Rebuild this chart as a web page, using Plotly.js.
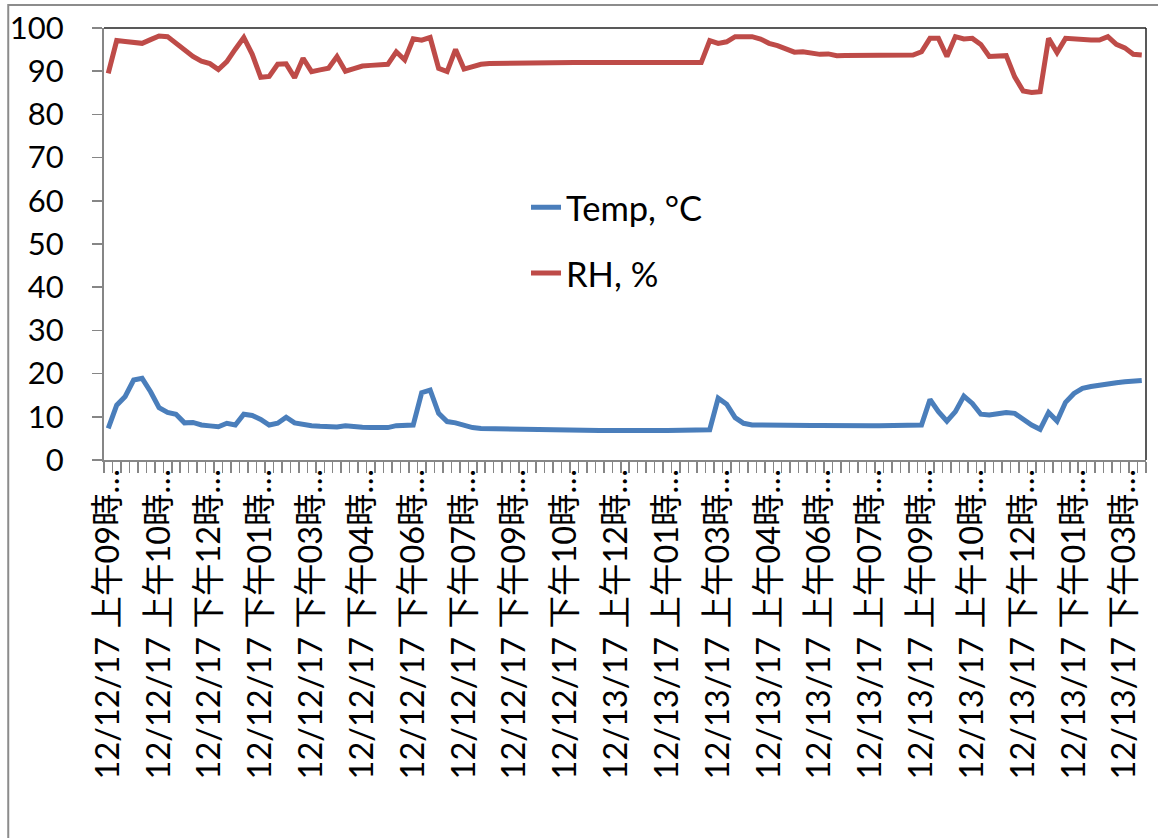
<!DOCTYPE html>
<html>
<head>
<meta charset="utf-8">
<script src="https://cdn.plot.ly/plotly-3.0.1.min.js"></script>
<style>
  html, body { margin: 0; padding: 0; background: #fff; }
  #chart { width: 1158px; height: 838px; }
</style>
</head>
<body>
<div id="chart"></div>
<script>
// Tick labels shown on the category axis (every 6th 15‑minute reading)
const timeLabels = [
  "12/12/17 上午09時…", "12/12/17 上午10時…", "12/12/17 下午12時…", "12/12/17 下午01時…",
  "12/12/17 下午03時…", "12/12/17 下午04時…", "12/12/17 下午06時…", "12/12/17 下午07時…",
  "12/12/17 下午09時…", "12/12/17 下午10時…", "12/13/17 上午12時…", "12/13/17 上午01時…",
  "12/13/17 上午03時…", "12/13/17 上午04時…", "12/13/17 上午06時…", "12/13/17 上午07時…",
  "12/13/17 上午09時…", "12/13/17 上午10時…", "12/13/17 下午12時…", "12/13/17 下午01時…",
  "12/13/17 下午03時…"
];
const labelEvery = 6;

// Temperature, °C (one reading per category)
const tempC = [
  7.3, 12.7, 14.7, 18.5, 18.9, 15.8, 12.1, 11.0, 10.6, 8.6,
  8.7, 8.1, 7.9, 7.7, 8.5, 8.1, 10.6, 10.3, 9.4, 8.1,
  8.5, 9.9, 8.6, 8.2, 7.95, 7.8, 7.7, 7.65, 7.95, 7.7,
  7.6, 7.55, 7.5, 7.5, 7.95, 7.95, 8.1, 15.6, 16.2, 10.8,
  8.9, 8.6, 7.95, 7.5, 7.3, 7.25, 7.2, 7.2, 7.15, 7.1,
  7.1, 7.05, 7.0, 7.0, 6.95, 6.95, 6.9, 6.9, 6.85, 6.85,
  6.8, 6.8, 6.8, 6.8, 6.8, 6.8, 6.8, 6.8, 6.8, 6.8,
  6.8, 7.0, 14.3, 12.9, 9.8, 8.5, 8.1, 8.05, 8.05, 8.0,
  8.0, 8.0, 8.0, 8.0, 8.0, 7.95, 7.95, 7.95, 7.95, 7.95,
  7.95, 7.95, 7.95, 7.95, 7.95, 7.95, 8.1, 14.0, 11.2, 9.0,
  11.2, 14.8, 13.1, 10.6, 10.4, 10.7, 11.0, 10.8, 9.3, 8.1,
  7.1, 11.0, 9.0, 13.35, 15.4, 16.6, 17.0, 17.35, 17.65, 17.9,
  18.1, 18.25, 18.4
];

// Relative humidity, %
const rhPct = [
  89.5, 97.1, 96.9, 96.7, 96.45, 97.3, 98.15, 98.0, 96.4, 94.7,
  93.4, 92.3, 91.75, 90.4, 92.2, 95.1, 97.8, 93.9, 88.6, 88.8,
  91.6, 91.7, 88.5, 93.0, 89.9, 90.3, 90.7, 93.4, 90.0, 90.6,
  91.2, 91.35, 91.45, 91.6, 94.5, 92.6, 97.5, 97.2, 97.8, 90.65,
  89.9, 95.05, 90.5, 91.1, 91.6, 91.8, 91.85, 91.9, 91.9, 91.9,
  91.95, 91.95, 91.95, 92.0, 92.0, 92.0, 92.0, 92.0, 92.0, 92.0,
  92.0, 92.0, 92.0, 92.0, 92.0, 92.0, 92.0, 92.0, 92.0, 92.0,
  92.0, 97.1, 96.45, 96.8, 98.0, 98.0, 98.0, 97.45, 96.45, 95.9,
  95.3, 94.4, 94.5, 94.2, 93.9, 94.0, 93.6, 93.65, 93.65, 93.65,
  93.7, 93.7, 93.7, 93.7, 93.75, 93.75, 94.5, 97.6, 97.6, 93.4,
  98.0, 97.45, 97.6, 96.2, 93.4, 93.5, 93.6, 88.7, 85.4, 85.1,
  85.25, 97.6, 94.3, 97.6, 97.4, 97.2, 97.2, 97.2, 98.0, 96.2,
  95.4, 93.9, 93.75
];

const seriesNames = ["Temp, °C", "RH, %"];
const seriesColors = ["#4A7EBB", "#BE4B48"];

const idx = tempC.map((_, i) => i);
const tickPositions = timeLabels.map((_, k) => k * labelEvery);

const FONT = "Lato, 'Noto Sans CJK TC', 'Noto Sans', sans-serif";

const traces = [
  { x: idx, y: tempC, name: seriesNames[0], legendgroup: "a", type: "scatter", mode: "lines",
    line: { color: seriesColors[0], width: 5 } },
  { x: idx, y: rhPct, name: seriesNames[1], legendgroup: "b", type: "scatter", mode: "lines",
    line: { color: seriesColors[1], width: 5 } }
];

const layout = {
  width: 1158, height: 838,
  margin: { l: 104, r: 12, t: 28, b: 378 },
  paper_bgcolor: "#fff", plot_bgcolor: "#fff",
  font: { family: FONT, size: 30, color: "#000" },
  showlegend: true,
  legend: {
    x: 0.405, y: 0.652, xanchor: "left", yanchor: "top",
    bgcolor: "rgba(0,0,0,0)", borderwidth: 0,
    traceorder: "grouped", tracegroupgap: 18,
    font: { family: FONT, size: 34.5, color: "#000" }
  },
  xaxis: {
    range: [-0.5, tempC.length - 0.5],
    tickmode: "array", tickvals: tickPositions, ticktext: timeLabels,
    tickangle: -90, ticks: "",
    ticklabelstandoff: -6,
    tickfont: { family: FONT, size: 32.5, color: "#000" },
    showline: true, linecolor: "#868686", linewidth: 2,
    showgrid: false, zeroline: false, fixedrange: true,
    minor: { tickmode: "linear", tick0: -0.5, dtick: 1, ticks: "outside",
             ticklen: 11, tickwidth: 1.5, tickcolor: "#868686", showgrid: false }
  },
  yaxis: {
    range: [0, 100], tickmode: "linear", tick0: 0, dtick: 10,
    ticks: "outside", ticklen: 10, tickwidth: 1.5, tickcolor: "#868686",
    ticklabelstandoff: 22,
    tickfont: { family: FONT, size: 31, color: "#000" },
    showline: true, linecolor: "#868686", linewidth: 2,
    showgrid: false, zeroline: false, fixedrange: true
  },
  shapes: [
    { type: "line", xref: "paper", yref: "paper", x0: 0, x1: 1, y0: 1, y1: 1,
      line: { color: "#222", width: 1.5 } },
    { type: "line", xref: "paper", yref: "paper", x0: 1, x1: 1, y0: 0, y1: 1,
      line: { color: "#222", width: 1.5 } },
    { type: "rect", xref: "paper", yref: "paper", x0: -0.0919, x1: 1.08, y0: -0.95, y1: 1.0532,
      line: { color: "#8c8c8c", width: 2 }, fillcolor: "rgba(0,0,0,0)", layer: "below" }
  ]
};

Plotly.newPlot("chart", traces, layout, { displayModeBar: false, staticPlot: true });
</script>
</body>
</html>
